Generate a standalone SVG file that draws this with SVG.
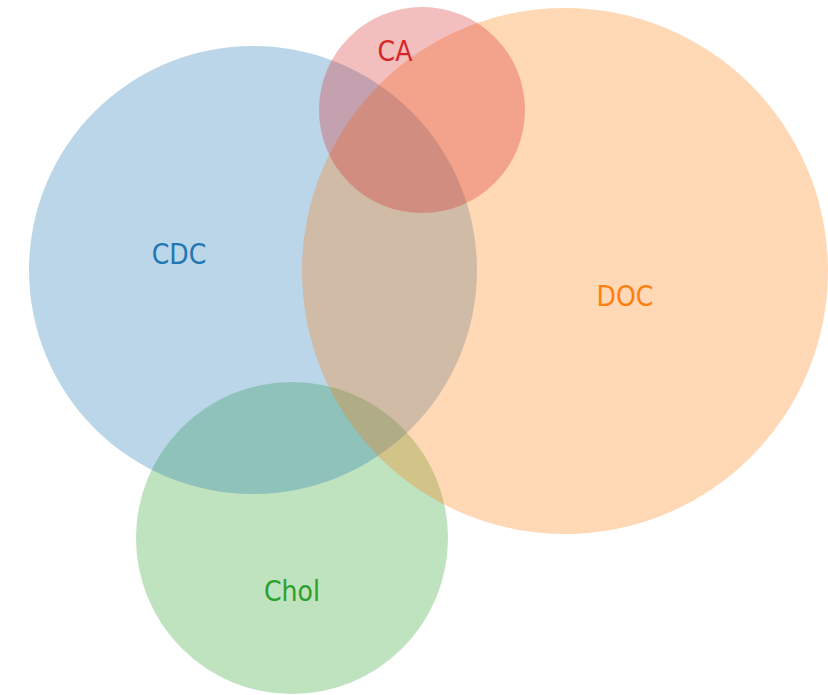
<svg xmlns="http://www.w3.org/2000/svg" width="828" height="695" viewBox="0 0 828 695">
<style>
.c{fill-opacity:0.3;stroke:none}
.t{font-family:"DejaVu Sans Condensed","DejaVu Sans",sans-serif;font-size:28px;text-anchor:middle}
</style>
<rect width="828" height="695" fill="#ffffff"/>
<g id="Chol"><circle class="c" cx="292" cy="538" r="156" fill="#2ca02c"/></g>
<g id="CDC"><circle class="c" cx="253" cy="270" r="224" fill="#1f77b4"/></g>
<g id="DOC"><circle class="c" cx="565" cy="271" r="263" fill="#ff7f0e"/></g>
<g id="CA"><circle class="c" cx="422" cy="110" r="103" fill="#d62728"/></g>
<g id="labels">
<text class="t" x="179" y="264" fill="#1f77b4">CDC</text>
<text class="t" x="395" y="61" fill="#d62728">CA</text>
<text class="t" x="625" y="306" fill="#ff7f0e">DOC</text>
<text class="t" x="292" y="601" fill="#2ca02c">Chol</text>
</g>
</svg>
